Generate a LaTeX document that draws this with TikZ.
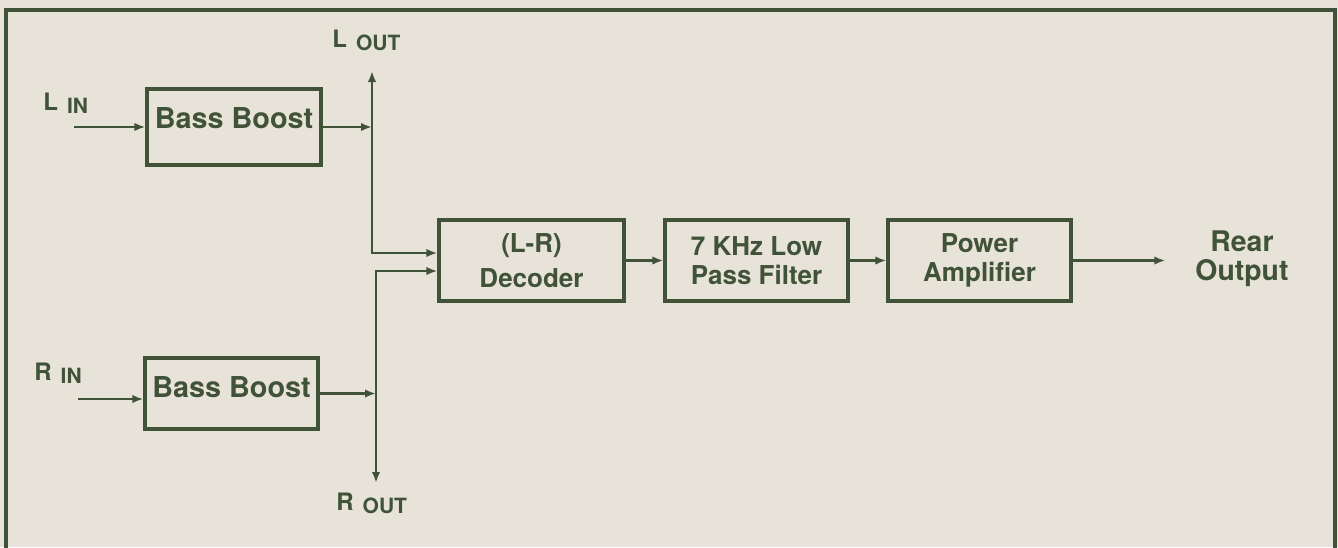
\documentclass[tikz,border=0pt]{standalone}
\usepackage{fontspec}
\setmainfont{TeX Gyre Heros}
\usetikzlibrary{arrows.meta}
\definecolor{ink}{RGB}{64,82,56}
\definecolor{paper}{RGB}{231,227,217}
\newcommand{\chan}[2]{#1\hspace{4.5pt}\raisebox{-1.5pt}{\fontsize{10.5}{10.5}\selectfont #2}}

\begin{document}
\begin{tikzpicture}[x=0.5pt, y=-0.5pt, font=\bfseries\fontsize{13}{14.5}\selectfont,
  every node/.style={align=center, text=ink},
  >={Latex[length=5.5pt,width=4.2pt]},
  block/.style={draw=ink, line width=1.6pt, minimum width=91.5pt, minimum height=40.5pt, inner sep=2pt},
  boost/.style={block, minimum width=87pt, text height=10.4pt, font=\bfseries\fontsize{14.4}{15}\selectfont},
  sig/.style={draw=ink, line width=1.2pt, ->},
  chanlbl/.style={anchor=base west, inner sep=0pt, font=\bfseries\fontsize{12}{12}\selectfont}]
\clip (0,0) rectangle (1338,547);
\fill[paper] (0,0) rectangle (1338,547);
\draw[ink, line width=1.6pt] (6,560) -- (6,10) -- (1335,10) -- (1335,560);

\node[boost, minimum height=38pt, text depth=9.4pt] (bassL) at (234,127) {Bass Boost};
\node[boost, minimum width=86.5pt, minimum height=35.5pt, text depth=6.9pt] (bassR) at (231.5,393.5) {Bass Boost};
\node[block, minimum width=92.5pt] (dec) at (531.5,260.5) {(L-R)\\[3pt]Decoder};
\node[block] (lpf) at (756.5,260.5) {7 KHz Low\\Pass Filter};
\node[block] (amp) at (979.5,260.5) {Power\\Amplifier};
\node[font=\bfseries\fontsize{14.2}{14.5}\selectfont] (rear) at (1242,259) {Rear\\Output};

\node[chanlbl] (lin) at (43,110) {\chan{L}{IN}};
\node[chanlbl] (rin) at (34,380) {\chan{R}{IN}};
\node[chanlbl] (lout) at (332,47) {\chan{L}{OUT}};
\node[chanlbl] (rout) at (336,510) {\chan{R}{OUT}};

\coordinate (linsrc) at (74,127);
\coordinate (rinsrc) at (78,399);
\coordinate (ltop) at (372,71);
\coordinate (lbend) at (372,253);
\coordinate (rbend) at (376,271);
\coordinate (rbot) at (376,483);

\draw[sig] (linsrc) -- (bassL.west);
\draw[sig] (rinsrc) -- (rinsrc -| bassR.west);
\draw[sig] (bassL.east) -- (bassL.east -| ltop);
\draw[sig] (bassR.east) -- (bassR.east -| rbend);
\draw[sig, <->] (ltop) -- (lbend) -- (lbend -| dec.west);
\draw[sig, <->] (rbot) -- (rbend) -- (rbend -| dec.west);
\draw[sig] (dec) -- (lpf);
\draw[sig] (lpf) -- (amp);
\draw[sig, shorten >=11.5pt] (amp.east) -- (amp.east -| rear.west);
\end{tikzpicture}
\end{document}
